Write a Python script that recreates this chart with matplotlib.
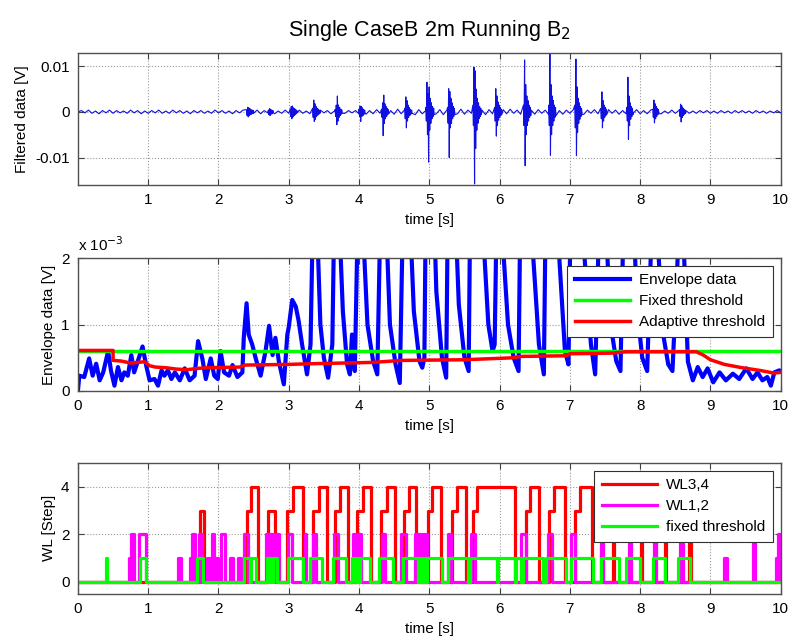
import numpy as np
import matplotlib
matplotlib.use("Agg")
import matplotlib.pyplot as plt

plt.rcParams['font.family'] = ['Liberation Sans', 'DejaVu Sans']

# --- filtered signal: background ripple (1e-4 V, 0.05 s grid) ---
noise = [0, 3, -2, 4, -3, 2, -4, 3, -2, 4, -3, 3, -2, 2, -3, 4, -2, 3, -4, 2, -3,
         3, -2, 4, -3, 2, -3, 4, -2, 3, -3, 2, -4, 3, -2, 3, -3, 2, -3, 4, -2,
         3, -3, 2, -4, 3, -2, 4, -3, 2, -3, 4, -4, 3, -2, 3, -4, 2, -3, 4, -3,
         3, -2, 4, -3, 2, -4, 3, -3, 4, -2, 3, -4, 2, -3, 4, -3, 3, -2, 3, -4,
         4, -5, 3, -4, 5, -3, 4, -6, 3, -5, 6, -4, 5, -3, 4, -6, 5, -4, 3, -5,
         6, -4, 5, -6, 4, -7, 5, -4, 6, -5, 4, -3, 6, -5, 4, -6, 5, -4, 3, -5,
         5, -4, 6, -3, 4, -5, 3, -6, 4, -5, 5, -3, 4, -6, 5, -4, 3, -5, 4, -3,
         5, -4, 3, -5, 4, -3, 5, -4, 3, -4, 5, -3, 4, -5, 3, -4, 4, -3, 5, -4,
         3, -4, 4, -3, 3, -4, 2, -3, 4, -3, 3, -2, 3, -3, 2, -3, 3, -2, 3, -3,
         2, -3, 3, -2, 2, -3, 3, -2, 3, -2, 2, -3, 3, -2, 2, -3, 2, -2, 3, -2]

# footstep bursts: start times [s] and samples (1e-3 V, 8 ms apart)
burst_t = [2.40, 2.71, 3.02, 3.34, 3.66, 4.00, 4.32, 4.65, 4.95, 5.26,
           5.62, 5.93, 6.34, 6.70, 7.07, 7.44, 7.81, 8.18, 8.56]
burst_v = [
    [0.5, -0.8, 1.0, -1.1, 0.9, -0.8, 0.7, -0.6, 0.5, -0.5, 0.4, -0.3, 0.3, -0.2],
    [0.4, -0.6, 0.7, -0.8, 0.6, -0.5, 0.4, -0.4, 0.3, -0.2],
    [0.6, -1.0, 1.2, -1.5, 1.3, -1.1, 0.9, -0.8, 0.7, -0.6, 0.5, -0.4, 0.3, -0.2],
    [0.8, -1.2, 2.6, -2.1, 1.8, -1.6, 1.2, -1.0, 0.8, -0.7, 0.6, -0.5, 0.4, -0.3],
    [0.5, -1.0, 1.5, -2.8, 3.5, -2.0, 1.5, -1.2, 1.0, -0.8, 0.6, -0.5, 0.4, -0.3],
    [0.6, -1.0, 1.3, -2.1, 1.2, -1.0, 0.9, -0.8, 0.6, -0.5, 0.4, -0.3],
    [0.6, -1.2, 2.0, -5.2, 3.7, -2.5, 1.8, -1.5, 1.2, -1.0, 0.8, -0.6, 0.5, -0.4],
    [0.8, -1.5, 3.3, -3.5, 2.5, -2.0, 1.5, -1.2, 1.0, -0.8, 0.6, -0.5, 0.4, -0.3],
    [1.0, -2.0, 6.5, -5.0, 4.0, -11.0, 5.5, -4.0, 3.0, -2.5, 2.0, -1.5, 1.2, -1.0, 0.8, -0.6],
    [1.0, -2.5, 5.1, -10.0, 4.5, -3.5, 3.0, -2.5, 2.0, -1.5, 1.2, -1.0, 0.8, -0.6],
    [1.5, -3.0, 9.8, -15.8, 9.0, -8.0, 5.0, -4.0, 3.0, -2.5, 2.0, -1.5, 1.2, -1.0, 0.8, -0.6],
    [1.0, -2.0, 5.1, -5.3, 3.5, -3.0, 2.2, -1.8, 1.5, -1.2, 1.0, -0.8, 0.6, -0.5],
    [1.5, -3.0, 11.4, -11.8, 6.0, -5.0, 3.5, -3.0, 2.5, -2.0, 1.5, -1.2, 1.0, -0.8],
    [1.5, -3.0, 12.7, -9.5, 6.0, -5.0, 3.5, -3.0, 2.5, -2.0, 1.5, -1.2, 1.0, -0.8],
    [1.5, -3.5, 11.6, -9.6, 5.5, -4.5, 3.0, -2.5, 2.0, -1.6, 1.2, -1.0, 0.8, -0.6],
    [0.8, -1.5, 4.4, -3.5, 2.5, -2.0, 1.5, -1.2, 1.0, -0.8, 0.6, -0.5],
    [1.0, -2.0, 7.6, -6.0, 3.5, -3.0, 2.0, -1.6, 1.2, -1.0, 0.8, -0.6],
    [0.6, -1.2, 2.6, -2.4, 1.8, -1.5, 1.2, -1.0, 0.8, -0.6, 0.5, -0.4],
    [0.5, -1.0, 1.7, -2.2, 1.4, -1.2, 0.9, -0.8, 0.6, -0.5, 0.4, -0.3],
]

# --- envelope (time [s], 1e-3 V) ---
envelope = [
    (0.00, 0.00), (0.02, 0.23), (0.09, 0.21), (0.16, 0.49), (0.21, 0.23), (0.26, 0.41),
    (0.31, 0.16), (0.36, 0.28), (0.43, 0.60), (0.47, 0.31), (0.52, 0.08), (0.57, 0.36),
    (0.62, 0.16), (0.66, 0.28), (0.71, 0.23), (0.76, 0.54), (0.80, 0.28), (0.85, 0.44),
    (0.92, 0.67), (0.97, 0.39), (1.02, 0.16), (1.09, 0.18), (1.14, 0.08), (1.19, 0.31),
    (1.23, 0.23), (1.28, 0.31), (1.33, 0.18), (1.38, 0.28), (1.45, 0.16), (1.52, 0.34),
    (1.59, 0.16), (1.66, 0.23), (1.71, 0.75), (1.77, 0.49), (1.82, 0.18), (1.89, 0.49),
    (1.94, 0.23), (1.99, 0.18), (2.03, 0.60), (2.08, 0.28), (2.15, 0.23), (2.20, 0.39),
    (2.27, 0.21), (2.34, 0.28), (2.36, 0.80), (2.40, 1.32), (2.43, 0.85), (2.48, 0.70),
    (2.53, 0.49), (2.60, 0.23), (2.67, 0.60), (2.72, 0.98), (2.77, 0.54), (2.81, 0.80),
    (2.86, 0.44), (2.93, 0.10), (2.98, 0.85), (3.00, 0.96), (3.05, 1.37), (3.10, 1.27),
    (3.14, 1.06), (3.19, 0.70), (3.26, 0.25), (3.31, 0.70), (3.35, 3.00), (3.40, 2.60),
    (3.45, 1.00), (3.50, 0.50), (3.56, 0.20), (3.62, 0.70), (3.66, 3.50), (3.71, 2.80),
    (3.77, 1.20), (3.83, 0.40), (3.87, 0.25), (3.90, 0.85), (3.94, 0.30), (3.99, 3.00),
    (4.05, 2.60), (4.12, 1.00), (4.20, 0.45), (4.26, 0.25), (4.32, 3.50), (4.37, 3.00),
    (4.44, 1.00), (4.52, 0.40), (4.58, 0.12), (4.64, 3.50), (4.71, 3.00), (4.78, 1.20),
    (4.86, 0.45), (4.90, 0.35), (4.93, 0.50), (4.97, 5.00), (5.03, 4.00), (5.10, 1.50),
    (5.18, 0.50), (5.24, 0.20), (5.28, 4.50), (5.34, 3.50), (5.42, 1.30), (5.50, 0.50),
    (5.56, 0.30), (5.62, 7.00), (5.68, 6.00), (5.76, 2.50), (5.84, 1.00), (5.90, 0.60),
    (5.93, 0.70), (5.97, 3.50), (6.03, 2.50), (6.12, 1.00), (6.20, 0.50), (6.27, 0.30),
    (6.34, 7.00), (6.40, 6.00), (6.48, 2.00), (6.56, 0.70), (6.63, 0.25), (6.70, 7.00),
    (6.76, 6.00), (6.85, 2.00), (6.93, 0.60), (6.98, 0.40), (7.07, 7.00), (7.13, 6.00),
    (7.21, 2.00), (7.30, 0.70), (7.36, 0.25), (7.44, 3.50), (7.50, 2.80), (7.58, 1.00),
    (7.66, 0.45), (7.72, 0.30), (7.81, 5.00), (7.87, 4.00), (7.95, 1.30), (8.03, 0.50),
    (8.10, 0.30), (8.18, 3.00), (8.24, 2.50), (8.32, 0.90), (8.40, 0.40), (8.46, 0.30),
    (8.56, 2.60), (8.62, 2.20), (8.68, 0.44), (8.75, 0.16), (8.82, 0.36), (8.89, 0.21),
    (8.96, 0.34), (9.04, 0.13), (9.13, 0.28), (9.22, 0.16), (9.32, 0.26), (9.41, 0.18),
    (9.51, 0.34), (9.60, 0.18), (9.67, 0.28), (9.74, 0.16), (9.81, 0.21), (9.86, 0.08),
    (9.91, 0.28), (9.98, 0.31), (10.0, 0.30),
]
fixed_thr = 0.6   # 1e-3 V
adaptive_thr = [
    (0.00, 0.61), (0.50, 0.61), (0.50, 0.46), (0.62, 0.45), (0.75, 0.42), (0.95, 0.44),
    (1.02, 0.38), (1.10, 0.36), (1.25, 0.35), (1.40, 0.33), (1.55, 0.32), (1.70, 0.34),
    (1.85, 0.35), (2.30, 0.36), (2.38, 0.39), (3.00, 0.40), (3.30, 0.41), (4.20, 0.43),
    (4.60, 0.46), (5.50, 0.47), (6.20, 0.50), (6.30, 0.52), (6.95, 0.53), (7.00, 0.56),
    (7.60, 0.57), (7.80, 0.59), (8.80, 0.59), (8.90, 0.54), (9.00, 0.47), (9.20, 0.40),
    (9.45, 0.35), (9.70, 0.31), (9.90, 0.27), (10.0, 0.28),
]

# --- walking level detection: pulses (on, off, level) ---
red_on = [1.74, 2.40, 2.71, 2.98, 3.35, 3.66, 3.97, 4.31, 4.64, 4.98,
          5.33, 5.62, 6.37, 6.70, 7.07, 7.61, 8.01, 8.35, 8.70]
red_up = [None, 2.47, None, 3.06, 3.43, 3.73, 4.06, 4.40, 4.71, 5.04,
          5.39, 5.68, 6.43, 6.77, 7.14, 7.62, 8.02, 8.36, 8.71]
red_off = [1.80, 2.56, 2.80, 3.20, 3.54, 3.84, 4.17, 4.51, 4.81, 5.16,
           5.52, 6.22, 6.56, 6.93, 7.31, 7.63, 8.03, 8.37, 8.72]

mag_on = [0.72, 0.76, 0.87, 1.43, 1.59, 1.62, 1.72, 1.83, 1.86, 1.89, 1.91, 1.95,
          2.04, 2.16, 2.28, 2.37, 2.68, 2.71, 2.74, 2.77, 2.82, 2.99, 3.23, 3.34,
          3.65, 3.91, 3.94, 3.97, 4.00, 4.32, 4.60, 4.80, 4.83, 4.86, 4.89, 4.92,
          4.95, 5.27, 5.60, 6.30, 6.69, 7.02, 7.44, 7.84, 8.20, 8.57, 9.20, 9.60,
          9.93, 9.96]
mag_off = [0.76, 0.80, 0.97, 1.46, 1.62, 1.66, 1.76, 1.85, 1.88, 1.91, 1.93, 1.99,
           2.09, 2.21, 2.32, 2.42, 2.70, 2.73, 2.76, 2.80, 2.86, 3.04, 3.25, 3.39,
           3.70, 3.93, 3.96, 3.99, 4.03, 4.37, 4.67, 4.82, 4.85, 4.88, 4.91, 4.94,
           4.97, 5.31, 5.65, 6.37, 6.74, 7.07, 7.47, 7.87, 8.23, 8.61, 9.23, 9.63,
           9.96, 9.99]
mag_lvl = [1, 2, 2, 1, 1, 2, 2, 1, 1, 1, 2, 1,
           2, 1, 1, 2, 2, 2, 2, 2, 2, 2, 2, 2,
           2, 2, 2, 2, 2, 2, 2, 2, 2, 2, 2, 2,
           2, 2, 2, 2, 2, 2, 2, 2, 2, 2, 1, 2,
           1, 2]

grn_on = [0.40, 0.89, 1.70, 2.37, 2.47, 2.69, 2.72, 2.75, 2.78, 2.99, 3.30, 3.63,
          3.90, 3.95, 3.98, 4.01, 4.29, 4.62, 4.85, 4.88, 4.91, 4.94, 4.97, 5.26,
          5.58, 5.98, 6.24, 6.34, 6.66, 7.01, 7.45, 7.80, 8.18, 8.54]
grn_off = [0.41, 0.97, 1.78, 2.45, 2.54, 2.71, 2.74, 2.77, 2.83, 3.20, 3.48, 3.82,
           3.94, 3.97, 4.00, 4.15, 4.48, 4.84, 4.87, 4.90, 4.93, 4.96, 5.18, 5.55,
           5.96, 6.22, 6.31, 6.62, 6.95, 7.33, 7.70, 8.00, 8.36, 8.71]


def filtered_series():
    pts = list(zip(np.linspace(0, 10, len(noise)), np.array(noise) * 1e-4))
    for t0, vals in zip(burst_t, burst_v):
        for k, v in enumerate(vals):
            pts.append((t0 + 0.008 * k, v * 1e-3))
    pts.sort()
    t, v = zip(*pts)
    return np.array(t), np.array(v)


def steps(on, off, lvl):
    x, y = [0.0], [0.0]
    for a, b, l in zip(on, off, lvl):
        x += [a, a, b, b]
        y += [0, l, l, 0]
    x.append(10.0)
    y.append(0.0)
    return x, y


def red_steps():
    x, y = [0.0], [0.0]
    for a, u, b in zip(red_on, red_up, red_off):
        if u is None:
            x += [a, a, b, b]
            y += [0, 3, 3, 0]
        else:
            x += [a, a, u, u, b, b]
            y += [0, 3, 3, 4, 4, 0]
    x.append(10.0)
    y.append(0.0)
    return x, y


def matlab_axes(ax):
    ax.tick_params(direction='in', top=True, right=True, labelsize=11, length=4,
                   color='#404040', pad=6)
    for s in ax.spines.values():
        s.set_color('#505050')
        s.set_linewidth(1.0)
    ax.grid(True, linestyle=':', color='#9a9a9a', linewidth=0.8)
    ax.set_axisbelow(True)


def boxed_legend(ax):
    leg = ax.legend(loc='upper right', fontsize=11, handlelength=3.6, fancybox=False,
                    framealpha=1, edgecolor='#303030', borderaxespad=0.5,
                    labelspacing=0.45, handletextpad=0.6, borderpad=0.5)
    leg.get_frame().set_linewidth(0.8)


fig = plt.figure(figsize=(7.95, 6.42), dpi=100)
L, W = 0.098, 0.884

# filtered data
ax1 = fig.add_axes([L, 0.712, W, 0.206])
t, v = filtered_series()
ax1.plot(t, v, color='#1010e0', linewidth=0.8)
ax1.set_xlim(0, 10)
ax1.set_ylim(-0.016, 0.013)
ax1.set_xticks(range(1, 11))
ax1.set_yticks([-0.01, 0, 0.01])
ax1.set_yticklabels(['-0.01', '0', '0.01'])
ax1.set_xlabel('time [s]', fontsize=11)
ax1.set_ylabel('Filtered data [V]', fontsize=11)
ax1.set_title('Single CaseB 2m Running B$_2$', fontsize=15.5, pad=12)
matlab_axes(ax1)

# envelope and thresholds
ax2 = fig.add_axes([L, 0.391, W, 0.207])
et, ev = zip(*envelope)
at, av = zip(*adaptive_thr)
ax2.plot(et, ev, color='#0000ff', linewidth=3.0, label='Envelope data')
ax2.axhline(fixed_thr, color='#00ff00', linewidth=2.5, label='Fixed threshold')
ax2.plot(at, av, color='#ff0000', linewidth=2.5, label='Adaptive threshold')
ax2.set_xlim(0, 10)
ax2.set_ylim(0, 2)
ax2.set_xticks(range(0, 11))
ax2.set_yticks([0, 1, 2])
ax2.set_xlabel('time [s]', fontsize=11)
ax2.set_ylabel('Envelope data [V]', fontsize=11)
ax2.text(0.0, 1.03, 'x 10$^{-3}$', transform=ax2.transAxes, fontsize=11,
         ha='left', va='bottom')
matlab_axes(ax2)
boxed_legend(ax2)

# walking level
ax3 = fig.add_axes([L, 0.075, W, 0.204])
rx, ry = red_steps()
mx, my = steps(mag_on, mag_off, mag_lvl)
gx, gy = steps(grn_on, grn_off, [1] * len(grn_on))
ax3.plot(rx, ry, color='#ff0000', linewidth=2.3, label='WL3,4')
ax3.plot(mx, my, color='#ff00ff', linewidth=2.3, label='WL1,2')
ax3.plot(gx, gy, color='#00ff00', linewidth=2.3, label='fixed threshold')
ax3.set_xlim(0, 10)
ax3.set_ylim(-0.5, 5)
ax3.set_xticks(range(0, 11))
ax3.set_yticks([0, 2, 4])
ax3.set_xlabel('time [s]', fontsize=11)
ax3.set_ylabel('WL [Step]', fontsize=11)
matlab_axes(ax3)
boxed_legend(ax3)

fig.savefig('out.png', dpi=100)
